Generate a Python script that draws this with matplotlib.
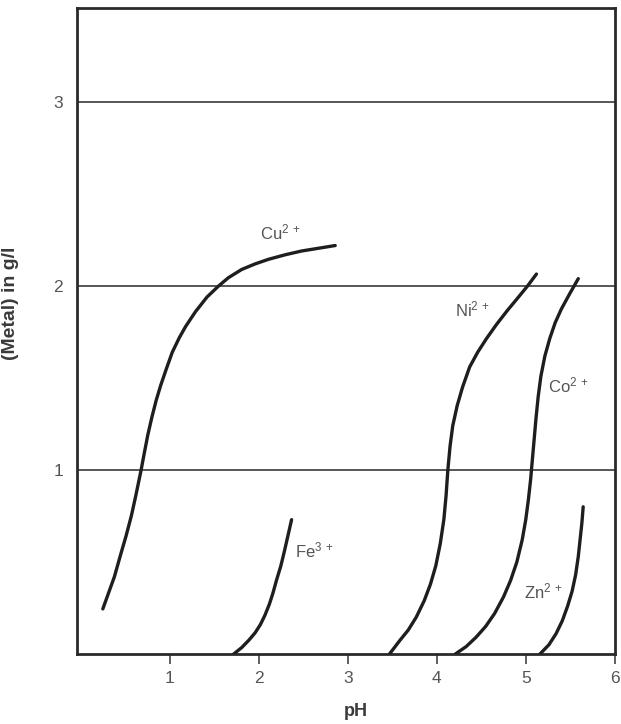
import matplotlib
matplotlib.use("Agg")
import matplotlib.pyplot as plt

plt.rcParams["font.family"] = ["Liberation Sans", "DejaVu Sans"]
plt.rcParams["mathtext.default"] = "regular"

# Solubility curves: metal concentration (g/l) versus pH
cu_ph = [0.25, 0.38, 0.45, 0.51, 0.57, 0.62, 0.68, 0.715, 0.755, 0.80, 0.85, 0.90, 0.96,
         1.03, 1.11, 1.18, 1.29, 1.42, 1.55, 1.66, 1.81, 1.96, 2.11, 2.30, 2.48, 2.67, 2.86]
cu_conc = [0.245, 0.42, 0.54, 0.64, 0.75, 0.86, 1.0, 1.09, 1.19, 1.285, 1.38, 1.46, 1.545,
           1.64, 1.72, 1.78, 1.86, 1.94, 2.0, 2.045, 2.09, 2.12, 2.145, 2.17, 2.19, 2.205, 2.22]

fe_ph = [1.72, 1.81, 1.89, 1.96, 2.02, 2.07, 2.12, 2.16, 2.20, 2.25, 2.29, 2.33, 2.37]
fe_conc = [0.0, 0.035, 0.075, 0.115, 0.16, 0.21, 0.27, 0.33, 0.40, 0.48, 0.56, 0.645, 0.73]

ni_ph = [3.47, 3.58, 3.68, 3.77, 3.86, 3.93, 3.99, 4.04, 4.08, 4.105, 4.125, 4.15, 4.18,
         4.23, 4.29, 4.37, 4.46, 4.56, 4.67, 4.79, 4.91, 5.02, 5.12]
ni_conc = [0.0, 0.07, 0.13, 0.20, 0.29, 0.38, 0.48, 0.60, 0.73, 0.86, 1.0, 1.13, 1.24,
           1.35, 1.45, 1.56, 1.64, 1.715, 1.79, 1.865, 1.935, 2.0, 2.065]

co_ph = [4.21, 4.33, 4.44, 4.55, 4.65, 4.75, 4.83, 4.90, 4.96, 5.00, 5.03, 5.055, 5.075,
         5.095, 5.115, 5.14, 5.17, 5.215, 5.27, 5.33, 5.40, 5.49, 5.59]
co_conc = [0.0, 0.04, 0.09, 0.15, 0.22, 0.31, 0.40, 0.50, 0.62, 0.73, 0.84, 0.95, 1.06,
           1.17, 1.28, 1.40, 1.51, 1.62, 1.715, 1.80, 1.875, 1.955, 2.04]

zn_ph = [5.16, 5.26, 5.34, 5.41, 5.47, 5.52, 5.56, 5.59, 5.61, 5.63, 5.645]
zn_conc = [0.0, 0.05, 0.11, 0.18, 0.26, 0.34, 0.43, 0.53, 0.62, 0.71, 0.80]

# Ion labels and their anchor points (left edge of text)
ion_labels = ["Cu$^{2\\,+}$", "Fe$^{3\\,+}$", "Ni$^{2\\,+}$", "Co$^{2\\,+}$", "Zn$^{2\\,+}$"]
label_ph = [2.02, 2.41, 4.21, 5.25, 4.98]
label_conc = [2.29, 0.565, 1.87, 1.46, 0.34]

x_ticks = [1, 2, 3, 4, 5, 6]
y_ticks = [1, 2, 3]

fig = plt.figure(figsize=(6.21, 7.24), dpi=100)
ax = fig.add_axes([0.124, 0.0967, 0.866, 0.892])

for yv in y_ticks:
    ax.axhline(yv, color="#3a3a3a", lw=1.2, zorder=1)

curve_kw = dict(color="#1e1e1e", lw=2.4, solid_capstyle="round", solid_joinstyle="round", zorder=3)
for xs, ys in [(cu_ph, cu_conc), (fe_ph, fe_conc), (ni_ph, ni_conc),
               (co_ph, co_conc), (zn_ph, zn_conc)]:
    ax.plot(xs, ys, **curve_kw)

for txt, xv, yv in zip(ion_labels, label_ph, label_conc):
    ax.text(xv, yv, txt, fontsize=12, color="#555555", ha="left", va="center", zorder=4)

ax.set_xlim(-0.04, 6.0)
ax.set_ylim(0, 3.51)
ax.set_xticks(x_ticks)
ax.set_yticks(y_ticks)
ax.tick_params(axis="x", direction="out", length=7, width=1.2, color="#444444",
               labelsize=12.5, labelcolor="#555555", pad=5)
ax.tick_params(axis="y", length=0, labelsize=12.5, labelcolor="#555555", pad=10)

for sp in ax.spines.values():
    sp.set_color("#2a2a2a")
    sp.set_linewidth(2.0)

ax.set_xlabel("pH", fontsize=13, fontweight="bold", color="#3a3a3a")
ax.set_ylabel("(Metal) in g/l", fontsize=14, fontweight="bold", color="#3a3a3a")
ax.xaxis.set_label_coords(0.519, -0.076)
ax.yaxis.set_label_coords(-0.108, 0.543)

fig.savefig("out.png", dpi=100)
